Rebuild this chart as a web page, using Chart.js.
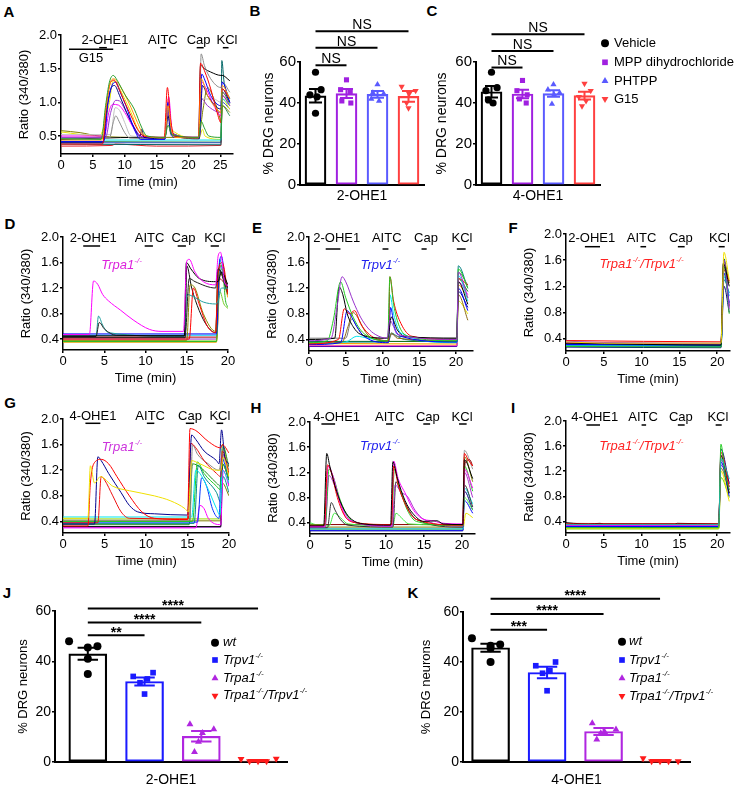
<!DOCTYPE html>
<html>
<head>
<meta charset="utf-8">
<script src="https://cdn.jsdelivr.net/npm/chart.js@4"></script>
<style>
  body { margin: 0; background: #fff; width: 746px; height: 789px; position: relative; overflow: hidden; }
  canvas { position: absolute; }
  .tag { position: absolute; font: bold 15px 'Liberation Sans', Arial, sans-serif; transform: translate(-50%, -50%); }
</style>
</head>
<body>
<div class="tag" style="left:9px;top:11px">A</div>
<div class="tag" style="left:255px;top:10px">B</div>
<div class="tag" style="left:432px;top:10px">C</div>
<div class="tag" style="left:10px;top:223px">D</div>
<div class="tag" style="left:257px;top:227px">E</div>
<div class="tag" style="left:513px;top:227px">F</div>
<div class="tag" style="left:10px;top:402px">G</div>
<div class="tag" style="left:256px;top:407px">H</div>
<div class="tag" style="left:513px;top:407px">I</div>
<div class="tag" style="left:7px;top:592px">J</div>
<div class="tag" style="left:413px;top:592px">K</div>
<script>
"use strict";

const FONT = "'Liberation Sans', Arial, sans-serif";

// ---------- calcium traces: [time (min), ratio 340/380] ----------
const tracesA = [
  [[0,0.46],[6.3,0.45],[7,0.95],[7.6,1.3],[8.2,1.40],[8.8,1.33],[10,1.12],[11.5,0.9],[12.7,0.62],[13.5,0.5],[16.3,0.48],[16.8,0.66],[17.4,0.52],[21.6,0.48],[22,0.72],[22.5,0.62],[23.2,0.5],[25.1,0.48],[25.3,1.15],[26.5,0.98]],
  [[0,0.44],[6.4,0.44],[7,0.9],[7.7,1.28],[8.3,1.35],[9,1.28],[10,1.12],[11,0.92],[12,0.7],[13,0.52],[16.3,0.47],[16.8,0.95],[17.3,0.6],[17.8,0.48],[21.6,0.47],[22,1.35],[23,1.1],[24.5,0.9],[25.1,0.85],[25.3,1.25],[26.5,1.05]],
  [[0,0.38],[6.5,0.38],[7.2,1.0],[7.8,1.3],[8.3,1.33],[9,1.22],[10,1.0],[11,0.8],[12,0.6],[13,0.5],[16.2,0.48],[16.7,1.22],[17.2,0.75],[17.8,0.5],[21.6,0.48],[21.9,1.58],[22.6,1.45],[23.5,1.2],[24.5,0.85],[25.1,0.7],[25.3,1.2],[26.5,1.05]],
  [[0,0.42],[6.7,0.42],[7.4,1.0],[8.1,1.27],[8.6,1.3],[9.3,1.15],[10.2,0.95],[11.5,0.6],[12.5,0.45],[16.3,0.45],[16.8,1.0],[17.2,0.6],[17.8,0.48],[21.7,0.48],[22.1,1.42],[22.5,1.35],[23.5,1.1],[25.1,0.95],[25.3,1.3],[26.5,1.0]],
  [[0,0.40],[6.6,0.4],[7.2,0.9],[7.9,1.22],[8.4,1.25],[9.2,1.1],[10.3,0.85],[11.5,0.62],[12.4,0.5],[12.7,0.6],[13,0.48],[16.3,0.46],[16.8,0.8],[17.3,0.52],[21.7,0.46],[22.2,1.25],[23,1.1],[25.1,0.9],[25.3,1.2],[26.5,1.0]],
  [[0,0.48],[7,0.48],[7.8,0.85],[8.6,1.03],[9.2,1.02],[10,0.9],[11,0.72],[12,0.55],[13,0.48],[16.3,0.47],[16.8,0.85],[17.3,0.55],[21.7,0.47],[22.1,1.05],[23,0.95],[25.1,0.85],[25.3,1.1],[26.5,0.95]],
  [[0,0.5],[6.8,0.5],[7.5,0.85],[8.1,0.97],[9,0.96],[10,0.85],[11.2,0.65],[12.3,0.5],[16.3,0.48],[16.9,1.08],[17.4,0.6],[17.9,0.5],[21.7,0.48],[22.1,1.30],[22.8,1.2],[24,0.95],[25.1,0.8],[25.3,1.15],[26.5,1.0]],
  [[0,0.47],[7.6,0.47],[8.2,0.7],[8.6,0.8],[9.1,0.72],[10,0.55],[10.8,0.47],[16.3,0.46],[16.8,0.9],[17.2,0.55],[21.7,0.46],[22,1.72],[22.5,1.55],[23.5,1.35],[25.1,1.22],[25.3,1.3],[26.5,1.15]],
  [[0,0.52],[7.8,0.52],[8.5,0.92],[9.2,0.88],[10,0.7],[11,0.5],[16.3,0.48],[16.8,0.7],[17.3,0.5],[21.7,0.48],[22.1,1.05],[24,1.05],[25.1,1.0],[25.3,1.1],[26.5,1.0]],
  [[0,0.45],[12.5,0.48],[16.3,0.47],[16.8,0.88],[17.3,0.55],[21.6,0.47],[21.9,1.55],[22.5,1.5],[23.5,1.45],[25.1,1.4],[25.3,1.4],[26.5,1.32]],
  [[0,0.58],[3,0.55],[6,0.5],[12.5,0.48],[16.3,0.48],[21.6,0.48],[22.3,0.9],[23,1.22],[24,1.05],[25,0.75],[25.15,0.7],[25.35,0.95],[26.5,0.85]],
  [[0,0.38],[25.1,0.37],[25.25,1.62],[25.6,1.3],[26.5,1.05]],
  [[0,0.47],[6.5,0.47],[7,0.44],[21.6,0.44],[25.1,0.44],[25.3,1.05],[26.5,0.95]],
  [[0,0.56],[6,0.5],[7.5,0.95],[8.2,1.32],[8.8,1.27],[10,1.05],[11,0.85],[12,0.62],[13,0.5],[16.3,0.47],[16.8,1.05],[17.3,0.6],[21.7,0.47],[22.2,0.6],[22.6,0.5],[25.1,0.45],[25.3,1.05],[26.5,0.9]],
  [[0,0.35],[8,0.36],[8.5,0.38],[15,0.35],[25.1,0.36],[25.3,1.1],[26.5,0.95]],
  [[0,0.40],[25.1,0.4],[25.3,1.0],[26.5,0.9]],
  [[0,0.42],[25.1,0.41],[25.3,0.95],[26.5,0.8]]
];
const colorsA = ['#2ca02c','#ff9900','#ff0000','#0000ff','#000080','#9933cc','#ff00ff','#8c8c8c','#c0c0c0','#000000','#808000','#006666','#00e0e0','#e6e600','#e0202a','#3050c0','#2e8b57'];

const tracesD = [
  [[0,0.47],[3.2,0.47],[3.7,1.31],[4.2,1.26],[4.8,1.1],[5.5,1.0],[7,0.85],[8.5,0.7],[10.5,0.55],[12,0.52],[14.6,0.52],[15,1.62],[15.3,1.65],[16,1.45],[17,1.3],[18.5,1.25],[18.8,1.7],[19.1,1.76],[19.6,1.28],[20,1.24]],
  [[0,0.45],[14.7,0.45],[14.95,1.6],[15.5,1.5],[16.5,1.35],[18.5,1.3],[18.8,1.3],[19.2,1.45],[20,1.25]],
  [[0,0.44],[4,0.44],[4.4,0.66],[5,0.56],[6.5,0.46],[14.8,0.45],[15.3,1.35],[16,1.3],[18.5,1.2],[18.8,1.5],[20,1.2]],
  [[0,0.44],[4,0.44],[4.3,0.76],[4.8,0.62],[5.5,0.5],[14.7,0.44],[15,1.1],[16,1.05],[17,0.98],[18.5,0.95],[18.8,1.0],[19.2,1.2],[20,1.2]],
  [[0,0.4],[15.3,0.4],[15.8,1.2],[16.5,0.95],[17.5,0.6],[18.5,0.5],[18.8,1.45],[19.3,1.6],[20,1.1]],
  [[0,0.38],[15,0.38],[15.4,1.25],[16,1.2],[17,0.8],[18.5,0.52],[18.8,1.4],[19.2,1.55],[20,1.1]],
  [[0,0.42],[14.8,0.42],[15,1.55],[15.6,1.2],[16.5,0.85],[17.5,0.6],[18.5,0.5],[18.8,1.5],[20,1.1]],
  [[0,0.48],[18.6,0.48],[18.9,1.48],[19.2,1.7],[19.6,1.4],[20,1.15]],
  [[0,0.36],[18.6,0.36],[18.9,1.3],[19.3,1.5],[19.7,1.0],[20,0.9]],
  [[0,0.46],[18.6,0.46],[19,1.65],[19.5,1.3],[20,1.1]],
  [[0,0.35],[18.6,0.35],[19,1.45],[20,1.05]],
  [[0,0.4],[18.6,0.4],[19.1,1.55],[20,1.15]],
  [[0,0.43],[18.6,0.43],[18.9,1.35],[20,1.2]],
  [[0,0.37],[18.6,0.37],[19,1.15],[19.5,0.95],[20,0.88]]
];
const colorsD = ['#ff00ff','#000000','#202020','#20a0a0','#ff0000','#8b8b00','#111111','#0000ff','#22bb22','#00ccee','#ff9900','#9933cc','#aa0000','#77cc22'];

const tracesE = [
  [[0,0.38],[3,0.42],[3.8,0.9],[4.5,1.38],[5,1.3],[6,1.0],[7,0.75],[8,0.58],[9,0.48],[10.6,0.42],[11,0.7],[11.5,0.6],[12,0.48],[20.1,0.4],[20.3,1.45],[21.6,1.05]],
  [[0,0.35],[2.5,0.38],[3.3,0.7],[4.3,1.3],[5,1.05],[6,0.75],[7,0.55],[8,0.45],[10.7,0.38],[11,1.38],[11.5,0.95],[12.3,0.6],[13.5,0.45],[20.1,0.38],[20.3,1.5],[21.6,1.2]],
  [[0,0.4],[3.5,0.42],[4.1,1.22],[4.6,1.1],[5.2,0.8],[6,0.6],[7,0.48],[10.7,0.42],[11.2,0.75],[12,0.55],[13,0.45],[20.1,0.42],[20.3,1.3],[21.6,0.95]],
  [[0,0.33],[4,0.4],[4.8,0.88],[5.5,0.8],[6.2,0.85],[7,0.65],[8,0.5],[9,0.42],[10.8,0.38],[11,1.38],[11.5,1.0],[12.5,0.65],[14,0.45],[20.1,0.4],[20.3,1.35],[21.6,1.25]],
  [[0,0.32],[4.3,0.35],[5.2,0.85],[5.8,0.75],[6.5,0.6],[7.5,0.45],[10.8,0.35],[11.1,0.9],[11.6,0.6],[12.5,0.45],[20.1,0.36],[20.3,1.2],[21.6,0.85]],
  [[0,0.34],[4.5,0.36],[5.3,0.6],[6,0.82],[6.6,0.75],[7.5,0.55],[8.5,0.42],[10.8,0.38],[11.2,0.5],[12,0.42],[20.1,0.38],[20.3,1.1],[21.6,0.7]],
  [[0,0.33],[5,0.36],[6.5,0.45],[8,0.42],[10.8,0.38],[11,1.1],[11.5,0.8],[12.5,0.5],[20.1,0.35],[20.3,1.4],[21.6,1.0]],
  [[0,0.42],[5,0.42],[5.8,0.72],[6.5,0.6],[7.5,0.45],[10.7,0.42],[11.3,0.48],[12,0.45],[20.1,0.42],[20.3,1.45],[21.6,1.25]],
  [[0,0.36],[10.8,0.36],[11.2,0.5],[12,0.45],[13,0.4],[20.1,0.36],[20.3,1.55],[21.6,1.2]],
  [[0,0.3],[20.1,0.3],[20.3,1.3],[21.6,1.1]],
  [[0,0.31],[20.1,0.31],[20.3,1.0],[21.6,0.8]],
  [[0,0.29],[20.1,0.29],[20.3,1.15],[21.6,0.9]],
  [[0,0.37],[20.1,0.37],[20.3,1.35],[21.6,1.15]],
  [[0,0.34],[20.1,0.33],[20.3,1.25],[21.6,1.05]]
];
const colorsE = ['#9933cc','#22cc22','#000000','#ff0000','#0000ff','#8b6914','#00e5ee','#777777','#008080','#ff00ff','#e6e600','#000080','#006400','#ff9900'];

const tracesF = [
  [[0,0.35],[5,0.33],[20.5,0.33],[20.9,1.72],[21.6,1.3]],
  [[0,0.33],[20.5,0.3],[20.8,1.55],[21.6,1.2]],
  [[0,0.36],[5,0.34],[20.5,0.33],[20.9,1.6],[21.6,0.85]],
  [[0,0.28],[20.5,0.27],[20.9,1.5],[21.6,0.78]],
  [[0,0.37],[20.5,0.35],[20.9,1.45],[21.6,1.28]],
  [[0,0.31],[20.5,0.3],[20.9,1.4],[21.6,0.95]],
  [[0,0.3],[20.5,0.29],[20.9,1.35],[21.6,1.05]],
  [[0,0.34],[20.5,0.32],[20.9,1.5],[21.6,0.88]],
  [[0,0.29],[20.5,0.28],[20.9,1.3],[21.6,1.1]],
  [[0,0.32],[20.5,0.31],[20.9,1.58],[21.6,1.25]],
  [[0,0.27],[20.5,0.26],[20.9,1.2],[21.6,0.8]],
  [[0,0.3],[20.5,0.3],[20.9,1.62],[21.6,0.9]]
];
const colorsF = ['#f0e000','#000000','#9933cc','#22bb22','#ff0000','#0000ff','#00ccee','#ff00ff','#008080','#808000','#000080','#006400'];

const tracesG = [
  [[0,0.45],[3,0.45],[3.3,1.27],[3.8,1.0],[4.5,1.1],[6,0.95],[8,0.88],[11,0.8],[13,0.72],[14.7,0.6],[15.1,0.55],[15.5,1.35],[16.5,1.3],[18.5,1.2],[19,1.2],[19.3,1.4],[20,1.1]],
  [[0,0.33],[3,0.33],[3.3,1.0],[3.7,1.3],[4.6,1.37],[5.5,1.3],[6.5,1.1],[8,0.8],[9.5,0.55],[11,0.45],[15,0.43],[15.3,1.85],[16,1.82],[17.5,1.65],[19,1.55],[19.2,1.6],[20,1.47]],
  [[0,0.36],[3.8,0.36],[4.2,1.41],[4.6,1.35],[5.5,1.15],[7,0.85],[8,0.65],[9,0.55],[11,0.52],[15,0.5],[15.5,1.75],[16,1.68],[17,1.5],[18.5,1.35],[18.8,1.3],[19.1,1.83],[19.5,1.4],[20,1.3]],
  [[0,0.38],[4.2,0.38],[4.6,1.1],[5,1.05],[6,0.8],[7,0.55],[8,0.45],[15.1,0.44],[15.4,1.62],[16,1.55],[17,1.35],[18.5,1.15],[19,1.1],[19.2,1.5],[20,1.15]],
  [[0,0.42],[15.3,0.42],[15.6,1.6],[16.2,1.45],[17.5,1.3],[18.8,1.2],[19.2,1.45],[20,1.2]],
  [[0,0.47],[15.5,0.47],[16,1.2],[16.5,1.15],[17.5,0.9],[18.5,0.6],[18.9,0.5],[19.2,1.2],[20,1.0]],
  [[0,0.4],[15.6,0.4],[16.2,1.33],[17,1.15],[18.5,0.95],[18.9,0.9],[19.2,1.3],[20,1.05]],
  [[0,0.39],[16.2,0.39],[16.7,1.08],[17.3,0.95],[18,0.6],[18.8,0.45],[19.1,1.4],[20,1.05]],
  [[0,0.3],[16,0.3],[16.5,0.65],[17,0.6],[17.5,0.45],[19,0.35],[19.3,1.2],[20,0.95]],
  [[0,0.37],[15.8,0.37],[16.3,1.28],[17,1.1],[18.5,0.85],[19,0.7],[19.3,1.1],[20,0.85]],
  [[0,0.35],[15.2,0.35],[15.6,1.3],[16.5,1.25],[18.5,1.0],[19,0.95],[19.2,1.6],[20,1.25]],
  [[0,0.32],[19,0.32],[19.2,1.3],[20,1.05]],
  [[0,0.31],[19,0.31],[19.3,1.45],[20,0.95]],
  [[0,0.41],[19,0.41],[19.2,1.0],[20,0.8]],
  [[0,0.44],[19,0.44],[19.3,1.55],[20,1.1]]
];
const colorsG = ['#f0e000','#ff0000','#000090','#ee1111','#888888','#00e5ee','#22cc22','#0033ff','#ff00ff','#008b8b','#228b22','#000000','#9933cc','#808000','#99dd00'];

const tracesH = [
  [[0,0.35],[1.8,0.35],[2.2,1.5],[2.6,1.3],[3.5,0.9],[4.5,0.6],[5.5,0.45],[7,0.38],[10.6,0.36],[10.9,1.37],[11.5,1.1],[12.5,0.75],[13.5,0.55],[15,0.42],[16.7,0.43],[17.5,0.38],[20.1,0.37],[20.3,1.4],[21.4,1.1]],
  [[0,0.36],[1.9,0.36],[2.3,1.32],[2.8,1.2],[3.6,0.8],[4.6,0.5],[6,0.4],[10.7,0.37],[11,1.3],[11.6,1.0],[12.7,0.65],[14,0.45],[20.1,0.36],[20.3,1.5],[20.8,1.4],[21.4,1.3]],
  [[0,0.34],[1.9,0.34],[2.4,1.3],[3,1.15],[4,0.7],[5,0.45],[10.7,0.35],[11,1.38],[11.6,1.1],[12.6,0.85],[13.5,0.62],[15,0.45],[16.3,0.43],[17,0.4],[20.1,0.38],[20.3,1.25],[21.4,0.95]],
  [[0,0.37],[2,0.37],[2.5,1.25],[3,1.15],[4,0.75],[5,0.5],[6,0.4],[10.7,0.36],[11.1,1.25],[11.8,0.95],[12.8,0.6],[14,0.42],[20.1,0.35],[20.3,1.3],[21.4,0.9]],
  [[0,0.33],[2,0.33],[2.5,1.15],[3.2,1.0],[4.2,0.65],[5.5,0.42],[10.8,0.34],[11.2,1.0],[12,0.88],[12.8,0.82],[13.8,0.6],[15,0.45],[20.1,0.34],[20.3,1.2],[21.4,0.8]],
  [[0,0.32],[2.3,0.32],[2.8,0.72],[3.3,0.6],[4,0.45],[5,0.36],[10.9,0.33],[11.3,1.05],[12,0.85],[13,0.6],[14,0.45],[20.1,0.33],[20.3,1.0],[21.4,0.65]],
  [[0,0.4],[1,0.36],[2.5,0.35],[3.2,0.55],[4,0.48],[5,0.38],[10.9,0.35],[11.3,0.55],[12,0.48],[13,0.38],[20.1,0.36],[20.3,0.8],[21.4,0.6]],
  [[0,0.37],[20.1,0.37],[20.4,1.35],[21,1.4],[21.4,1.3]],
  [[0,0.3],[20.1,0.3],[20.3,0.95],[21.4,0.7]],
  [[0,0.28],[20.1,0.28],[20.3,0.75],[21.4,0.55]],
  [[0,0.31],[20.1,0.31],[20.3,1.55],[21.4,1.25]],
  [[0,0.29],[20.1,0.29],[20.5,0.55],[21.4,0.48]],
  [[0,0.27],[20.1,0.27],[20.3,0.9],[21.4,0.6]],
  [[0,0.33],[20.1,0.33],[20.3,1.45],[21.4,1.05]]
];
const colorsH = ['#000000','#ff0000','#ff00ff','#22cc22','#aa33cc','#333333','#44ee44','#8b0000','#00e5ee','#0000ff','#999999','#e6e600','#000080','#808000'];

const tracesI = [
  [[0,0.35],[20.2,0.35],[20.5,1.4],[21.6,1.08]],
  [[0,0.3],[20.2,0.3],[20.5,1.63],[21,1.2],[21.6,0.9]],
  [[0,0.36],[4.5,0.36],[20.2,0.36],[20.5,1.5],[21.6,0.95]],
  [[0,0.38],[1,0.37],[3,0.36],[4.5,0.37],[5,0.36],[14.4,0.36],[14.7,0.37],[20.2,0.36],[20.5,1.45],[21.6,0.85]],
  [[0,0.29],[20.2,0.29],[20.5,1.2],[21.6,0.72]],
  [[0,0.32],[20.2,0.32],[20.5,1.35],[21.6,0.8]],
  [[0,0.34],[20.2,0.33],[20.5,1.45],[21.6,0.9]],
  [[0,0.33],[20.2,0.32],[20.5,1.3],[21.6,0.95]],
  [[0,0.28],[20.2,0.28],[20.5,1.1],[21.6,0.78]],
  [[0,0.31],[20.2,0.3],[20.5,1.55],[21.6,1.0]],
  [[0,0.33],[20.2,0.33],[20.5,1.25],[21.6,0.85]],
  [[0,0.37],[20.2,0.36],[20.5,1.38],[21.6,1.02]]
];
const colorsI = ['#20b2aa','#22cc22','#ff0000','#000000','#f0e000','#0000ff','#ff00ff','#9933cc','#77dd00','#000080','#808000','#888888'];

// stimulus: [name, start, end, label centre] in minutes
const stimA = [['2-OHE1',6.0,7.2,6.9],['AITC',15.6,16.5,16.0],['Cap',21.3,22.4,21.6],['KCl',25.4,26.3,26.05]];
const preA = [['G15',1.26,8.2,4.7]];
const stimD = [['2-OHE1',2.45,4.5,3.66],['AITC',9.9,10.9,10.5],['Cap',13.9,14.9,14.6],['KCl',17.9,18.9,18.4]];
const stimE = [['2-OHE1',2.27,4.27,3.77],['AITC',10.0,10.8,10.57],['Cap',15.3,16.0,15.9],['KCl',20.1,21.3,20.8]];
const stimF = [['2-OHE1',2.5,4.5,3.4],['AITC',9.85,10.6,10.0],['Cap',14.8,15.7,15.2],['KCl',20.2,21.0,20.3]];
const stimG = [['4-OHE1',2.7,4.5,3.6],['AITC',10.1,11.0,10.5],['Cap',14.8,15.8,15.3],['KCl',18.5,19.3,18.9]];
const stimH = [['4-OHE1',1.5,3.3,3.5],['AITC',10.0,10.9,10.5],['Cap',14.9,15.8,15.5],['KCl',19.6,20.6,20.0]];
const stimI = [['4-OHE1',2.7,4.5,3.8],['AITC',10.0,10.6,10.2],['Cap',14.8,15.7,15.2],['KCl',19.8,20.6,20.1]];

const ticksRatioA = [0.5, 1.0, 1.5, 2.0];
const ticksRatio = [0.4, 0.8, 1.2, 1.6, 2.0];
const ticksTimeA = [0, 5, 10, 15, 20, 25];
const ticksTime = [0, 5, 10, 15, 20];

// ---------- % DRG neurons ----------
const groupsBC = ['Vehicle', 'MPP dihydrochloride', 'PHTPP', 'G15'];
const meanB = [43.5, 44.6, 44.2, 43.2];
const semB = [3.3, 2.2, 1.6, 2.6];
const dotsB = [[55, 46.5, 44, 43, 35], [51.3, 46.5, 45.5, 41, 40], [49, 45, 44.5, 42, 41], [48, 46, 44.5, 40, 37.5]];
const meanC = [45.5, 44.4, 44.6, 43.6];
const semC = [2.8, 2.1, 1.6, 1.9];
const dotsC = [[55, 47.5, 46, 41.5, 40], [51, 46, 44, 42, 40], [49, 46.5, 45, 44, 39.5], [49.5, 46, 43, 41, 38.5]];
const sigBC = ['NS', 'NS', 'NS'];

const groupsJK = ['wt', 'Trpv1^-/-', 'Trpa1^-/-', 'Trpa1^-/-^/Trpv1^-/-'];
const meanJ = [43, 32, 10.2, 0.5];
const semJ = [2.4, 1.6, 2.1, 0.3];
const dotsJ = [[48, 46, 45.5, 41, 35], [35.5, 34, 33, 31.5, 27], [15, 13, 11.5, 8, 4], [1.2, 0.3, 0.3, 0.3, 1.3]];
const sigJ = ['**', '****', '****'];
const meanK = [45.7, 35.8, 12.2, 0.5];
const semK = [1.6, 2.3, 1.4, 0.3];
const dotsK = [[49.5, 47, 46.5, 45.5, 40], [40, 38.5, 36.5, 35.5, 28.5], [15.5, 13, 12, 11.5, 9], [1.5, 0.3, 0.3, 0.3, 0.3]];
const sigK = ['***', '****', '****'];
const sigPairs = [[0, 1], [0, 2], [0, 3]];
const ticksPct = [0, 20, 40, 60];

// ---------- helpers ----------
function richText(ctx, str, x, y, o) {
  const size = o.size || 13;
  const style = (o.italic ? 'italic ' : '') + (o.bold ? 'bold ' : '');
  const parts = str.split('^');
  const sup = size * 0.62;
  let w = 0;
  parts.forEach((p, i) => {
    ctx.font = style + (i % 2 ? sup : size) + 'px ' + FONT;
    w += ctx.measureText(p).width;
  });
  let cx = o.align === 'left' ? x : x - w / 2;
  ctx.save();
  ctx.fillStyle = o.color || '#000';
  ctx.textBaseline = 'middle';
  ctx.textAlign = 'left';
  parts.forEach((p, i) => {
    ctx.font = style + (i % 2 ? sup : size) + 'px ' + FONT;
    ctx.fillText(p, cx, i % 2 ? y - size * 0.36 : y);
    cx += ctx.measureText(p).width;
  });
  ctx.restore();
}

function marker(ctx, style, rot, r, color, x, y) {
  ctx.save();
  ctx.fillStyle = color;
  Chart.helpers.drawPoint(ctx, { pointStyle: style, rotation: rot, radius: r, borderWidth: 0 }, x, y);
  ctx.restore();
}

function mount(area, box) {
  const c = document.createElement('canvas');
  const left = area.l - box.yW - box.pl;
  const top = area.t - box.pt;
  c.width = area.r - area.l + box.yW + box.pl + box.pr;
  c.height = area.b - area.t + box.xH + box.pt + box.pb;
  c.style.left = left + 'px';
  c.style.top = top + 'px';
  document.body.appendChild(c);
  return { c, left, top };
}

function axisBase(size) {
  return {
    border: { display: true, color: '#000', width: 1.5 },
    grid: { display: true, drawOnChartArea: false, drawTicks: true, tickLength: 3, color: '#000', lineWidth: 1.5 },
    ticks: { color: '#000', padding: 1, font: { family: FONT, size } }
  };
}

function traceChart(p) {
  const box = { yW: 44, xH: 36, pl: 4, pt: 16, pr: 12, pb: 2 };
  const m = mount(p.area, box);
  const datasets = p.traces.map((pts, i) => ({
    type: 'line',
    data: pts.map(q => ({ x: q[0], y: q[1] })),
    borderColor: p.colors[i % p.colors.length],
    borderWidth: 1,
    pointRadius: 0,
    cubicInterpolationMode: 'monotone'
  }));
  const x = axisBase(13), y = axisBase(13);
  Object.assign(x, {
    type: 'linear', min: 0, max: p.xMax,
    afterBuildTicks: s => { s.ticks = p.xTicks.map(v => ({ value: v })); },
    afterFit: s => { s.height = box.xH; },
    title: { display: true, text: 'Time (min)', color: '#000', padding: 0, font: { family: FONT, size: 13 } }
  });
  Object.assign(y, {
    type: 'linear', min: p.yMin, max: 2.0,
    afterBuildTicks: s => { s.ticks = p.yTicks.map(v => ({ value: v })); },
    afterFit: s => { s.width = box.yW; },
    title: { display: true, text: 'Ratio (340/380)', color: '#000', padding: 0, font: { family: FONT, size: 13 } }
  });
  y.ticks.callback = v => Number(v).toFixed(1);

  const notes = {
    id: 'notes',
    afterDatasetsDraw(chart) {
      const ctx = chart.ctx, top = chart.chartArea.top, xs = chart.scales.x, ys = chart.scales.y;
      const bar = (a, b, yy) => {
        ctx.save();
        ctx.strokeStyle = '#000';
        ctx.lineWidth = 1.5;
        ctx.beginPath();
        ctx.moveTo(xs.getPixelForValue(a), yy);
        ctx.lineTo(xs.getPixelForValue(b), yy);
        ctx.stroke();
        ctx.restore();
      };
      p.stims.forEach(s => {
        bar(s[1], s[2], top + p.barOff);
        richText(ctx, s[0], xs.getPixelForValue(s[3]), top + p.textOff, { size: 13 });
      });
      (p.pre || []).forEach(s => {
        bar(s[1], s[2], top + p.preOff[0]);
        richText(ctx, s[0], xs.getPixelForValue(s[3]), top + p.preOff[1], { size: 13 });
      });
      if (p.geno) {
        richText(ctx, p.geno[0], xs.getPixelForValue(p.geno[1]), ys.getPixelForValue(p.geno[2]),
          { size: 13, italic: true, color: p.geno[3] });
      }
    }
  };

  new Chart(m.c, {
    type: 'line',
    data: { datasets },
    options: {
      responsive: false, animation: false, events: [],
      layout: { padding: { left: box.pl, top: box.pt, right: box.pr, bottom: box.pb } },
      plugins: { legend: { display: false }, tooltip: { enabled: false } },
      scales: { x, y }
    },
    plugins: [notes]
  });
}

function barChart(p) {
  const m = mount(p.area, p.box);
  const n = p.means.length;
  const datasets = [];
  datasets.push({
    type: 'bar',
    data: p.means.map((v, i) => ({ x: i, y: v })),
    backgroundColor: '#fff',
    borderColor: p.colors,
    borderWidth: 2.2,
    borderSkipped: false,
    barThickness: p.barW,
    order: 3
  });
  for (let g = 0; g < n; g++) {
    datasets.push({
      type: 'scatter',
      data: p.dots[g].map((v, k) => ({ x: g + p.jit[g][k], y: v })),
      pointStyle: p.shapes[g],
      pointRotation: p.rot[g],
      pointRadius: p.dotR,
      backgroundColor: p.colors[g],
      pointBackgroundColor: p.colors[g],
      pointBorderWidth: 0,
      borderWidth: 0,
      clip: false,
      order: 2
    });
    const hi = p.means[g] + p.sems[g], lo = p.means[g] - p.sems[g], c = p.cap;
    datasets.push({
      type: 'line',
      data: [{ x: g - c, y: hi }, { x: g + c, y: hi }, { x: g, y: null },
             { x: g, y: hi }, { x: g, y: lo }, { x: g, y: null },
             { x: g - c, y: lo }, { x: g + c, y: lo }],
      borderColor: p.colors[g], borderWidth: 2, pointRadius: 0, spanGaps: false, clip: false, order: 1
    });
  }
  sigPairs.forEach((pr, i) => {
    datasets.push({
      type: 'line',
      data: [{ x: pr[0], y: p.sigY[i] }, { x: pr[1], y: p.sigY[i] }],
      borderColor: '#000', borderWidth: 2, pointRadius: 0, clip: false, order: 0
    });
  });

  const x = axisBase(14), y = axisBase(p.tickSize);
  x.border.width = 2; y.border.width = 2;
  Object.assign(x, {
    type: 'linear', min: p.xMin, max: p.xMax, offset: false,
    grid: { display: false, offset: false },
    ticks: { display: false },
    afterFit: s => { s.height = p.box.xH; },
    title: { display: true, text: p.xTitle, color: '#000', padding: 0, font: { family: FONT, size: 14 } }
  });
  Object.assign(y, {
    type: 'linear', min: 0, max: 60,
    afterBuildTicks: s => { s.ticks = ticksPct.map(v => ({ value: v })); },
    afterFit: s => { s.width = p.box.yW; },
    title: { display: true, text: '% DRG neurons', color: '#000', padding: 0, font: { family: FONT, size: p.titleSize } }
  });

  const notes = {
    id: 'notes',
    afterDraw(chart) {
      const ctx = chart.ctx, xs = chart.scales.x, ys = chart.scales.y;
      sigPairs.forEach((pr, i) => {
        const cx = (xs.getPixelForValue(pr[0]) + xs.getPixelForValue(pr[1])) / 2;
        richText(ctx, p.sigText[i], cx, ys.getPixelForValue(p.sigY[i]) - p.sigOff,
          { size: p.sigSize, bold: p.sigBold });
      });
      if (p.legend) {
        const L = p.legend;
        p.labels.forEach((lab, g) => {
          const yy = L.ys[g] - m.top;
          marker(ctx, p.shapes[g], p.rot[g], L.r, p.colors[g], L.sx - m.left, yy);
          richText(ctx, lab, L.tx - m.left, yy, { size: 13, italic: L.italic, align: 'left' });
        });
      }
    }
  };

  new Chart(m.c, {
    type: 'bar',
    data: { datasets },
    options: {
      responsive: false, animation: false, events: [],
      layout: { padding: { left: p.box.pl, top: p.box.pt, right: p.box.pr, bottom: p.box.pb } },
      plugins: { legend: { display: false }, tooltip: { enabled: false } },
      scales: { x, y }
    },
    plugins: [notes]
  });
}

// ---------- panels ----------
traceChart({ area: { l: 61, t: 35, r: 233, b: 154 }, xMax: 27, yMin: 0.233, yTicks: ticksRatioA, xTicks: ticksTimeA,
  traces: tracesA, colors: colorsA, stims: stimA, pre: preA, textOff: 5, barOff: 12.7, preOff: [14.3, 23] });
traceChart({ area: { l: 63, t: 237, r: 228, b: 350 }, xMax: 20, yMin: 0.228, yTicks: ticksRatio, xTicks: ticksTime,
  traces: tracesD, colors: colorsD, stims: stimD, textOff: 1, barOff: 9, geno: ['Trpa1^-/-', 7.1, 1.56, '#dd22dd'] });
traceChart({ area: { l: 309, t: 237, r: 473, b: 351 }, xMax: 22.3, yMin: 0.22, yTicks: ticksRatio, xTicks: ticksTime,
  traces: tracesE, colors: colorsE, stims: stimE, textOff: 1.3, barOff: 12, geno: ['Trpv1^-/-', 9.7, 1.56, '#2222ee'] });
traceChart({ area: { l: 566, t: 234, r: 730, b: 351 }, xMax: 21.7, yMin: 0.21, yTicks: ticksRatio, xTicks: ticksTime,
  traces: tracesF, colors: colorsF, stims: stimF, textOff: 4.3, barOff: 12.7, geno: ['Trpa1^-/-^/Trpv1^-/-', 10.0, 1.53, '#ff2222'] });
traceChart({ area: { l: 63, t: 419, r: 229, b: 533 }, xMax: 20, yMin: 0.22, yTicks: ticksRatio, xTicks: ticksTime,
  traces: tracesG, colors: colorsG, stims: stimG, textOff: -3, barOff: 4.3, geno: ['Trpa1^-/-', 7.1, 1.56, '#cc33dd'] });
traceChart({ area: { l: 310, t: 422, r: 475, b: 534 }, xMax: 21.7, yMin: 0.22, yTicks: ticksRatio, xTicks: ticksTime,
  traces: tracesH, colors: colorsH, stims: stimH, textOff: -4.7, barOff: 2, geno: ['Trpv1^-/-', 9.2, 1.61, '#2222ee'] });
traceChart({ area: { l: 566, t: 421, r: 730, b: 533 }, xMax: 21.7, yMin: 0.216, yTicks: ticksRatio, xTicks: ticksTime,
  traces: tracesI, colors: colorsI, stims: stimI, textOff: -3.7, barOff: 4, geno: ['Trpa1^-/-^/Trpv1^-/-', 9.96, 1.59, '#ff2222'] });

const colorsBC = ['#000000', '#a020e0', '#5a5aff', '#ff4040'];
const shapes4 = ['circle', 'rect', 'triangle', 'triangle'];
const rot4 = [0, 0, 0, 180];

barChart({ area: { l: 300, t: 62, r: 424, b: 185 }, box: { yW: 39, xH: 20, pl: 4, pt: 55, pr: 12, pb: 4 },
  xMin: -0.5, xMax: 3.5, barW: 21, cap: 0.21, dotR: 3.6,
  means: meanB, sems: semB, dots: dotsB, labels: groupsBC,
  jit: [[0, 0.18, -0.18, 0.05, 0], [0, -0.19, 0.12, -0.15, 0.14], [0, -0.15, 0.2, -0.2, 0.05], [-0.22, 0.23, 0.02, -0.06, 0]],
  colors: colorsBC, shapes: shapes4, rot: rot4,
  sigText: sigBC, sigY: [58.4, 67, 75], sigOff: 6, sigSize: 14, sigBold: false,
  xTitle: '2-OHE1', titleSize: 14, tickSize: 15 });

barChart({ area: { l: 476, t: 62, r: 600, b: 185 }, box: { yW: 42, xH: 20, pl: 4, pt: 55, pr: 146, pb: 4 },
  xMin: -0.5, xMax: 3.5, barW: 21, cap: 0.21, dotR: 3.6,
  means: meanC, sems: semC, dots: dotsC, labels: groupsBC,
  jit: [[0, 0.18, -0.18, -0.1, 0.05], [0, -0.18, 0.15, -0.1, 0.12], [0, -0.18, 0.2, 0.02, -0.05], [0, 0.2, -0.18, 0.05, -0.08]],
  colors: colorsBC, shapes: shapes4, rot: rot4,
  sigText: sigBC, sigY: [57.3, 65.4, 73.5], sigOff: 6, sigSize: 14, sigBold: false,
  xTitle: '4-OHE1', titleSize: 14, tickSize: 15,
  legend: { sx: 605, tx: 614, ys: [43.3, 62.3, 81, 99], r: 4, italic: false } });

const colorsJK = ['#000000', '#1a1aff', '#b026e0', '#ff1a1a'];
const jitJK = [[-0.33, 0.17, 0, 0, 0], [0.15, -0.2, 0.05, -0.08, 0], [-0.2, 0.22, 0.02, -0.05, -0.12], [-0.3, -0.15, 0, 0.15, 0.32]];

barChart({ area: { l: 55, t: 611, r: 287, b: 762 }, box: { yW: 39, xH: 27, pl: 4, pt: 30, pr: 40, pb: 4 },
  xMin: -0.578, xMax: 3.51, barW: 38, cap: 0.18, dotR: 4,
  means: meanJ, sems: semJ, dots: dotsJ, labels: groupsJK, jit: jitJK,
  colors: colorsJK, shapes: shapes4, rot: rot4,
  sigText: sigJ, sigY: [50.4, 55.4, 61], sigOff: 2.5, sigSize: 14, sigBold: true,
  xTitle: '2-OHE1', titleSize: 13, tickSize: 14,
  legend: { sx: 215, tx: 223, ys: [642.7, 660, 678.3, 695.7], r: 4, italic: true } });

barChart({ area: { l: 463, t: 612, r: 690, b: 762 }, box: { yW: 44, xH: 27, pl: 4, pt: 30, pr: 40, pb: 4 },
  xMin: -0.488, xMax: 3.53, barW: 38, cap: 0.18, dotR: 4,
  means: meanK, sems: semK, dots: dotsK, labels: groupsJK, jit: jitJK,
  colors: colorsJK, shapes: shapes4, rot: rot4,
  sigText: sigK, sigY: [52.9, 59.2, 65.3], sigOff: 2.5, sigSize: 14, sigBold: true,
  xTitle: '4-OHE1', titleSize: 13, tickSize: 14,
  legend: { sx: 622, tx: 629, ys: [641.7, 660, 678.3, 696], r: 4, italic: true } });
</script>
</body>
</html>
